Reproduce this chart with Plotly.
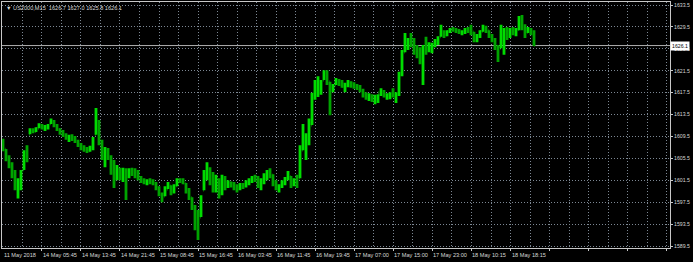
import plotly.graph_objects as go

# ---------------- data ----------------
symbol = "US2000,M15"
last_bar_ohlc = ["1626.7", "1627.0", "1625.8", "1626.1"]

high = [
    1609.1, 1607.2, 1606.1, 1604.8, 1603.4, 1601.9, 1603.4, 1607.0, 1607.9, 1611.0,
    1611.0, 1611.2, 1611.9, 1611.8, 1611.6, 1611.8, 1612.8, 1612.5, 1611.8, 1611.0,
    1610.7, 1610.1, 1609.8, 1609.9, 1609.6, 1608.9, 1608.3, 1607.9, 1607.6, 1607.8,
    1609.4, 1614.7, 1612.5, 1608.9, 1607.6, 1607.4, 1606.1, 1605.2, 1604.3, 1603.8,
    1603.8, 1603.7, 1603.7, 1603.8, 1603.7, 1603.4, 1602.3, 1601.9, 1601.7, 1601.9,
    1601.7, 1601.2, 1600.4, 1599.3, 1600.4, 1601.2, 1600.6, 1600.8, 1601.9, 1601.9,
    1601.9, 1601.0, 1600.1, 1598.4, 1597.0, 1596.1, 1598.8, 1603.4, 1604.8, 1603.9,
    1603.0, 1602.5, 1601.9, 1602.5, 1602.3, 1601.5, 1601.3, 1601.2, 1600.8, 1601.0,
    1601.0, 1601.5, 1601.9, 1602.3, 1602.5, 1602.3, 1601.9, 1602.8, 1603.4, 1603.7,
    1602.6, 1601.5, 1600.8, 1601.5, 1602.1, 1603.2, 1602.3, 1601.9, 1602.5, 1607.9,
    1611.8, 1610.1, 1612.8, 1617.5, 1619.8, 1620.5, 1619.8, 1621.6, 1621.6, 1619.5,
    1619.1, 1620.2, 1620.0, 1619.8, 1619.3, 1619.8, 1619.6, 1619.4, 1619.1, 1618.9,
    1618.2, 1617.6, 1617.4, 1617.2, 1617.1, 1617.2, 1618.3, 1618.0, 1617.4, 1617.6,
    1618.3, 1617.6, 1621.3, 1625.3, 1628.4, 1627.5, 1628.4, 1627.5, 1626.2, 1625.8,
    1626.2, 1627.7, 1626.7, 1626.6, 1627.3, 1627.8, 1629.9, 1628.9, 1628.9, 1629.3,
    1629.5, 1629.3, 1629.1, 1628.9, 1629.3, 1629.5, 1629.9, 1628.6, 1628.2, 1628.9,
    1629.9, 1629.7, 1628.9, 1628.2, 1627.5, 1626.2, 1629.9, 1629.3, 1629.5, 1629.3,
    1629.5, 1629.3, 1631.5, 1631.7, 1630.0, 1629.5, 1629.3, 1628.9,
]
low = [
    1606.8, 1605.0, 1603.7, 1601.9, 1599.7, 1598.2, 1599.7, 1603.4, 1604.8, 1609.9,
    1610.1, 1610.3, 1611.0, 1610.8, 1610.5, 1610.8, 1611.8, 1611.2, 1610.5, 1609.8,
    1609.4, 1608.9, 1608.5, 1608.7, 1608.3, 1607.6, 1607.0, 1606.7, 1606.5, 1606.7,
    1607.0, 1609.8, 1607.9, 1605.2, 1603.9, 1605.2, 1602.5, 1600.1, 1601.5, 1601.5,
    1601.2, 1597.9, 1601.9, 1602.3, 1601.9, 1601.5, 1601.0, 1600.8, 1600.6, 1600.8,
    1600.6, 1599.7, 1598.6, 1597.5, 1598.6, 1599.9, 1598.8, 1599.1, 1600.4, 1601.0,
    1600.8, 1599.1, 1597.9, 1596.1, 1592.4, 1590.6, 1594.8, 1599.7, 1601.5, 1600.6,
    1599.3, 1599.3, 1598.2, 1598.8, 1599.7, 1600.1, 1600.2, 1599.7, 1599.3, 1599.7,
    1599.9, 1600.2, 1600.6, 1601.0, 1601.2, 1600.1, 1599.7, 1600.8, 1601.5, 1601.9,
    1600.4, 1599.7, 1599.3, 1600.1, 1600.6, 1601.5, 1600.1, 1600.4, 1600.1, 1601.9,
    1607.0, 1605.2, 1607.9, 1611.6, 1616.2, 1616.7, 1617.1, 1619.8, 1618.9, 1613.4,
    1617.6, 1618.9, 1618.7, 1618.4, 1617.6, 1618.5, 1618.4, 1618.2, 1618.0, 1617.6,
    1616.6, 1616.2, 1616.0, 1615.8, 1615.4, 1615.6, 1616.9, 1616.6, 1616.2, 1616.3,
    1616.6, 1615.6, 1616.9, 1620.5, 1624.9, 1625.3, 1625.8, 1624.4, 1623.8, 1622.7,
    1618.9, 1624.4, 1624.9, 1624.7, 1625.8, 1626.2, 1627.7, 1627.5, 1627.8, 1628.4,
    1628.6, 1628.4, 1628.2, 1628.0, 1628.2, 1628.4, 1628.0, 1626.7, 1626.7, 1627.5,
    1628.6, 1628.4, 1627.5, 1626.7, 1625.3, 1623.1, 1625.6, 1624.4, 1627.1, 1627.5,
    1628.0, 1627.8, 1628.9, 1628.9, 1627.5, 1628.4, 1628.0, 1626.0,
]
close = [
    1607.5, 1605.5, 1604.2, 1602.5, 1600.5, 1601.5, 1603.0, 1606.5, 1605.5, 1610.5,
    1610.4, 1611.0, 1611.3, 1611.0, 1611.4, 1611.5, 1612.2, 1611.5, 1610.8, 1610.2,
    1609.8, 1609.2, 1609.5, 1609.0, 1608.6, 1607.9, 1607.4, 1607.0, 1606.9, 1607.5,
    1609.0, 1611.0, 1608.5, 1606.0, 1606.5, 1605.8, 1603.2, 1602.0, 1603.5, 1602.2,
    1602.8, 1602.5, 1603.0, 1602.8, 1602.5, 1601.8, 1601.4, 1601.2, 1601.4, 1601.3,
    1601.0, 1600.2, 1599.0, 1598.5, 1599.8, 1600.5, 1599.5, 1600.5, 1601.5, 1601.3,
    1601.0, 1599.8, 1598.6, 1596.8, 1594.0, 1592.5, 1598.0, 1602.5, 1603.2, 1601.5,
    1600.5, 1601.5, 1599.5, 1601.5, 1600.5, 1600.8, 1600.5, 1600.2, 1600.0, 1600.6,
    1600.5, 1601.2, 1601.5, 1601.8, 1601.6, 1600.8, 1601.5, 1602.3, 1602.8, 1602.5,
    1601.0, 1600.2, 1600.5, 1601.2, 1601.8, 1602.2, 1600.8, 1601.2, 1601.0, 1606.5,
    1608.0, 1608.5, 1611.5, 1616.5, 1617.5, 1618.0, 1619.5, 1620.5, 1619.5, 1618.2,
    1618.8, 1619.6, 1619.2, 1618.6, 1618.8, 1619.2, 1618.9, 1618.6, 1618.5, 1617.8,
    1616.9, 1616.6, 1616.8, 1616.2, 1616.5, 1617.5, 1617.5, 1616.9, 1617.0, 1617.3,
    1617.0, 1617.2, 1620.8, 1624.5, 1626.0, 1626.8, 1626.5, 1625.2, 1624.5, 1623.5,
    1626.0, 1625.5, 1625.8, 1626.0, 1626.8, 1627.5, 1628.2, 1628.0, 1628.7, 1629.0,
    1628.9, 1628.8, 1628.5, 1628.6, 1629.0, 1628.8, 1628.8, 1627.3, 1627.8, 1628.7,
    1629.2, 1628.9, 1628.0, 1627.2, 1626.0, 1625.5, 1628.5, 1628.8, 1628.5, 1628.9,
    1628.6, 1629.0, 1630.5, 1629.5, 1628.5, 1629.0, 1628.6, 1626.1,
]
first_open = 1608.5

x_labels = ["11 May 2018", "14 May 05:45", "14 May 13:45", "14 May 21:45",
            "15 May 08:45", "15 May 16:45", "16 May 03:45", "16 May 11:45",
            "16 May 19:45", "17 May 07:00", "17 May 15:00", "17 May 23:00",
            "18 May 10:15", "18 May 18:15"]
y_ticks = [1589.5, 1593.5, 1597.5, 1601.5, 1605.5, 1609.5, 1613.5,
           1617.5, 1621.5, 1625.5, 1629.5, 1633.5]

# ---------------- derived ----------------
n = len(close)
x = list(range(n))
opens = [first_open] + [min(max(close[i - 1], low[i]), high[i]) for i in range(1, n)]

# axis grid layout (in bar units)
grid_step = 6.51
grid0 = 6.43
major = [grid0 + grid_step * (2 * k + 1) for k in range(17)]
minor = [grid0 + grid_step * (2 * k) for k in range(17)]
label_pos = [-0.1] + major[:len(x_labels) - 1]

GRID = "#7d8894"
DASH = "1px,2px"
BORDER = "#c8c8c8"
TXT = "#d8d8d8"
FONT = "Liberation Sans"

fig = go.Figure()
fig.add_trace(go.Ohlc(
    x=x, open=opens, high=high, low=low, close=close,
    increasing=dict(line=dict(color="#00dc00", width=2.8)),
    decreasing=dict(line=dict(color="#00a400", width=2.8)),
    tickwidth=0.15, hoverinfo="skip", showlegend=False,
))

# current price line
fig.add_shape(type="line", xref="paper", x0=0, x1=1, yref="y",
              y0=close[-1], y1=close[-1], line=dict(color="#b0b0b0", width=1),
              layer="below")

annotations = []
for lab, pos in zip(x_labels, label_pos):
    annotations.append(dict(x=pos, xref="x", y=0, yref="paper", yanchor="top",
                            yshift=-2, xanchor="left", xshift=-1, text=lab,
                            showarrow=False, font=dict(family=FONT, size=5.6, color=TXT)))
annotations.append(dict(x=0, xref="paper", xanchor="left", xshift=2,
                        y=1, yref="paper", yanchor="top", yshift=-1,
                        text="▼ " + symbol + "  " + " ".join(last_bar_ohlc),
                        showarrow=False, font=dict(family=FONT, size=5.6, color=TXT)))
annotations.append(dict(x=1, xref="paper", xanchor="left", xshift=0,
                        y=close[-1], yref="y", yanchor="middle",
                        text="%.1f" % close[-1], showarrow=False,
                        bgcolor="#ffffff", borderpad=1,
                        font=dict(family=FONT, size=5.2, color="#000000")))

fig.update_layout(
    width=693, height=262,
    margin=dict(l=2, r=23, t=2, b=14),
    paper_bgcolor="#000000", plot_bgcolor="#000000",
    font=dict(family=FONT, size=5.6, color=TXT),
    annotations=annotations,
    showlegend=False,
    xaxis=dict(range=[-0.333, 222.333], rangeslider=dict(visible=False),
               tickmode="array", tickvals=major, showticklabels=False,
               ticks="outside", ticklen=2, tickcolor=BORDER,
               showgrid=True, gridcolor=GRID, griddash=DASH, gridwidth=1,
               minor=dict(tickmode="array", tickvals=minor, showgrid=True,
                          gridcolor=GRID, griddash=DASH, gridwidth=1, ticks=""),
               showline=True, linecolor=BORDER, linewidth=1, mirror=True,
               zeroline=False, fixedrange=True),
    yaxis=dict(range=[1589.15, 1634.05], side="right",
               tickmode="array", tickvals=y_ticks, tickformat=".1f",
               ticks="outside", ticklen=2, tickcolor=BORDER,
               tickfont=dict(family=FONT, size=5.2, color=TXT),
               showgrid=True, gridcolor=GRID, griddash=DASH, gridwidth=1,
               showline=True, linecolor=BORDER, linewidth=1, mirror=True,
               zeroline=False, fixedrange=True),
)

fig.write_html("out.html", config={"displayModeBar": False})
